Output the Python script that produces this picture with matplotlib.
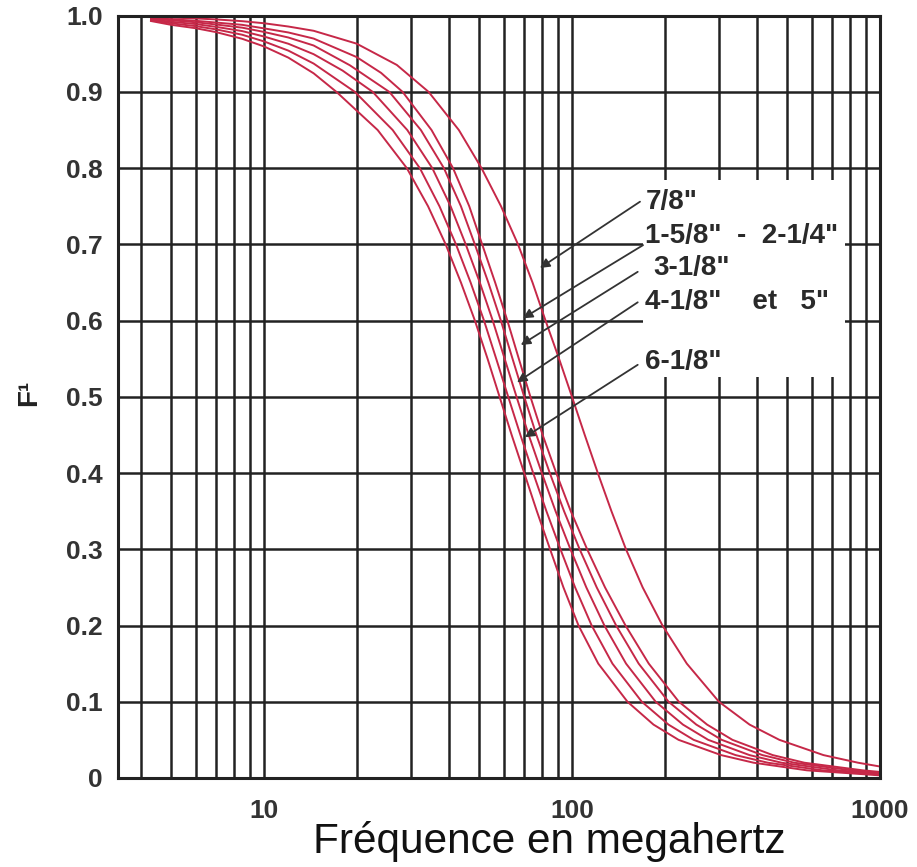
import matplotlib.pyplot as plt
from matplotlib.patches import Rectangle

plt.rcParams['font.family'] = ['Liberation Sans', 'DejaVu Sans']

# frequencies (MHz) and F values, left to right
f1 = [4.3, 5, 6, 7, 8.5, 10, 12, 14.5, 17.2, 23.4, 29.1, 34.1, 38.9, 43.6, 48.4, 53.2, 58.2, 63.7, 70.0, 76.9,
      84.9, 93.8, 105.0, 121.7, 151.4, 183.9, 221.8, 304.8, 388.6, 579.4, 1000]
F1 = [0.993, 0.988, 0.9836, 0.9784, 0.9697, 0.9597, 0.945, 0.9244, 0.9, 0.85, 0.8, 0.75, 0.7, 0.65, 0.6, 0.55, 0.5,
      0.45, 0.4, 0.35, 0.3, 0.25, 0.2, 0.15, 0.1, 0.07, 0.05, 0.03, 0.02, 0.01, 0.0034]

f2 = [4.3, 5, 6, 7, 8.5, 10, 12, 14.5, 19.74, 26.18, 32.07, 37.14, 42.01, 46.87, 51.81, 56.75, 62.09, 68.0, 74.83,
      82.6, 91.75, 102.35, 115.85, 135.3, 168.5, 205.7, 248.3, 339.6, 432.1, 651.1, 1000]
F2 = [0.994, 0.990, 0.9863, 0.982, 0.975, 0.9663, 0.9542, 0.9372, 0.9, 0.85, 0.8, 0.75, 0.7, 0.65, 0.6, 0.55, 0.5,
      0.45, 0.4, 0.35, 0.3, 0.25, 0.2, 0.15, 0.1, 0.07, 0.05, 0.03, 0.02, 0.01, 0.0044]

f3 = [4.3, 5, 6, 7, 8.5, 10, 12, 14.5, 18, 22.56, 29.2, 35.2, 40.36, 45.19, 50.2, 55.3, 60.45, 66.07, 72.35, 79.83,
      88.44, 98.86, 111.3, 127.4, 149.8, 186.9, 229.2, 276.8, 376.9, 478.8, 728.9, 1000]
F3 = [0.995, 0.992, 0.989, 0.9853, 0.9798, 0.9727, 0.9632, 0.9495, 0.928, 0.9, 0.85, 0.8, 0.75, 0.7, 0.65, 0.6, 0.55,
      0.5, 0.45, 0.4, 0.35, 0.3, 0.25, 0.2, 0.15, 0.1, 0.07, 0.05, 0.03, 0.02, 0.01, 0.0055]

f4 = [4.3, 5, 6, 7, 8.5, 10, 12, 14.5, 19, 25.54, 32.32, 38.39, 43.6, 48.38, 53.5, 58.76, 64.12, 69.98, 76.64, 84.72,
      94.24, 105.9, 120.3, 139.1, 164.6, 205.8, 253.3, 306.2, 415, 526.7, 808.7, 1000]
F4 = [0.996, 0.994, 0.9914, 0.9884, 0.9843, 0.9787, 0.9714, 0.9609, 0.935, 0.9, 0.85, 0.8, 0.75, 0.7, 0.65, 0.6, 0.55,
      0.5, 0.45, 0.4, 0.35, 0.3, 0.25, 0.2, 0.15, 0.1, 0.07, 0.05, 0.03, 0.02, 0.01, 0.0067]

f5 = [4.3, 5, 6, 7, 8.5, 10, 12, 14.5, 20, 24, 28.2, 35.0, 41.1, 46.4, 51.1, 56.3, 61.7, 67.2, 73.3, 80.3, 88.9,
      99.1, 112.0, 128.0, 149.2, 177.5, 222.3, 274.5, 331.8, 448.3, 568, 879, 1000]
F5 = [0.997, 0.9954, 0.9933, 0.991, 0.988, 0.9834, 0.978, 0.970, 0.9457, 0.925, 0.9, 0.85, 0.8, 0.75, 0.7, 0.65, 0.6,
      0.55, 0.5, 0.45, 0.4, 0.35, 0.3, 0.25, 0.2, 0.15, 0.1, 0.07, 0.05, 0.03, 0.02, 0.01, 0.0079]

f6 = [4.3, 5, 6, 7, 8.5, 10, 12, 14.5, 20, 27, 34.25, 42.93, 50.85, 58.84, 66.8, 74.45, 82.06, 90.78, 100, 110.0,
      121.3, 134.3, 149.7, 169.6, 196.7, 235.9, 299.9, 377.1, 471.2, 655, 848.4, 1000]
F6 = [0.998, 0.9975, 0.9964, 0.9951, 0.9928, 0.9901, 0.9858, 0.9802, 0.9633, 0.9354, 0.9, 0.85, 0.8, 0.75, 0.7, 0.65,
      0.6, 0.55, 0.5, 0.45, 0.4, 0.35, 0.3, 0.25, 0.2, 0.15, 0.1, 0.07, 0.05, 0.03, 0.02, 0.015]

curves = [(f1, F1), (f2, F2), (f3, F3), (f4, F4), (f5, F5), (f6, F6)]

y_ticks = [0, 0.1, 0.2, 0.3, 0.4, 0.5, 0.6, 0.7, 0.8, 0.9, 1.0]
y_tick_labels = ['0', '0.1', '0.2', '0.3', '0.4', '0.5', '0.6', '0.7', '0.8', '0.9', '1.0']
x_ticks = [10, 100, 1000]
x_tick_labels = ['10', '100', '1000']

labels = ['7/8"', '1-5/8"  -  2-1/4"', '3-1/8"', '4-1/8"    et   5"', '6-1/8"']
label_pos = [(0.692, 0.756), (0.692, 0.711), (0.703, 0.669), (0.692, 0.624), (0.692, 0.546)]
arrow_start = [(0.685, 0.756), (0.689, 0.699), (0.682, 0.664), (0.682, 0.624), (0.682, 0.542)]
arrow_tip = [(78.7, 0.669), (69.3, 0.603), (68.2, 0.568), (66.3, 0.519), (70.3, 0.447)]

fig = plt.figure(figsize=(9.17, 8.67), dpi=100)
ax = fig.add_axes([0.1287, 0.1027, 0.831, 0.8792])

for f, F in curves:
    ax.plot(f, F, color='#c62848', lw=1.4, zorder=2)

ax.set_xscale('log')
ax.set_xlim(3.36, 1000)
ax.set_ylim(0, 1)

ax.set_axisbelow(True)
ax.grid(True, which='both', axis='x', color='#222222', lw=1.8)
ax.grid(True, which='major', axis='y', color='#222222', lw=1.8)
for s in ax.spines.values():
    s.set_color('#222222')
    s.set_linewidth(2.2)

ax.set_yticks(y_ticks)
ax.set_yticklabels(y_tick_labels)
ax.set_xticks(x_ticks)
ax.set_xticklabels(x_tick_labels)
ax.tick_params(axis='both', which='both', length=0)
ax.tick_params(axis='y', pad=11, labelsize=19, labelcolor='#333333')
ax.tick_params(axis='x', pad=15, labelsize=19, labelcolor='#333333')
for t in ax.get_yticklabels() + ax.get_xticklabels():
    t.set_fontweight('bold')

ax.set_xlabel('Fréquence en megahertz', fontsize=30.5, color='#111111', va='baseline')
ax.xaxis.set_label_coords(0.566, -0.099)
ax.set_ylabel('F¹', fontsize=20, fontweight='bold', rotation=90, color='#222222')
ax.yaxis.set_label_coords(-0.10, 0.505)

# white patch behind the labels
ax.add_patch(Rectangle((0.689, 0.526), 0.265, 0.259, transform=ax.transAxes,
                       facecolor='white', edgecolor='none', zorder=1.5))

for txt, pos, start, tip in zip(labels, label_pos, arrow_start, arrow_tip):
    ax.text(pos[0], pos[1], txt, transform=ax.transAxes, fontsize=20, fontweight='bold',
            color='#2a2a2a', ha='left', va='center', zorder=4)
    ax.annotate('', xy=tip, xycoords='data', xytext=start, textcoords='axes fraction',
                arrowprops=dict(arrowstyle='-|>', color='#333333', lw=1.3,
                                mutation_scale=14, shrinkA=0, shrinkB=0),
                zorder=3)

fig.savefig('out.png', dpi=100)
